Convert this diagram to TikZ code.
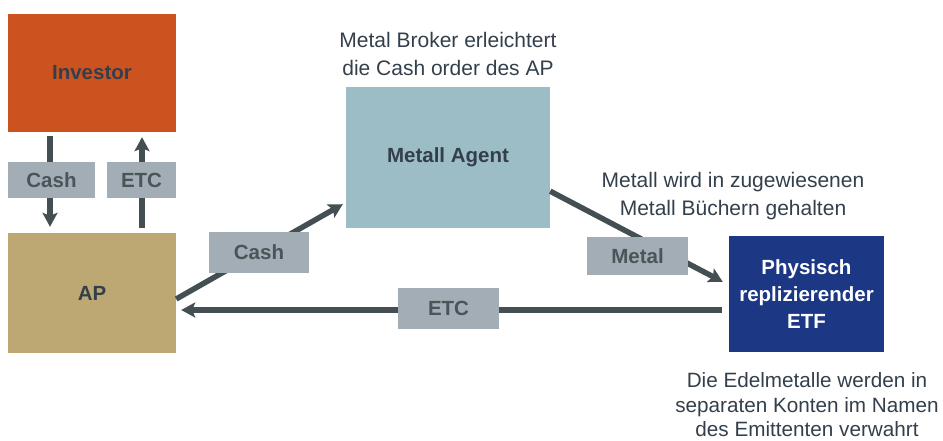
\documentclass[tikz,border=0pt]{standalone}
\usepackage{fontspec}
\setmainfont{Liberation Sans}
\usepackage{tikz}
\usetikzlibrary{arrows.meta}

\definecolor{invorange}{HTML}{CC5220}
\definecolor{aptan}{HTML}{BDA873}
\definecolor{agentblue}{HTML}{9CBDC6}
\definecolor{etfblue}{HTML}{1C3784}
\definecolor{tagrey}{HTML}{A3ADB5}
\definecolor{flowgrey}{HTML}{434F52}
\definecolor{tagtext}{HTML}{4A5558}
\definecolor{notetext}{HTML}{33404C}

\begin{document}
\begin{tikzpicture}[x=1pt,y=-1pt]
\tikzstyle{box}=[inner sep=0pt,font=\fontsize{20.5}{27}\selectfont\bfseries];
\tikzstyle{tag}=[fill=tagrey,inner sep=0pt,text=tagtext,font=\fontsize{20.5}{24}\selectfont\bfseries];
\tikzstyle{note}=[align=center,text=notetext,font=\fontsize{21}{28}\selectfont];
\tikzstyle{flow}=[draw=flowgrey,line width=5.5pt,-{Stealth[length=14pt,width=15pt,inset=3pt]}];
\useasboundingbox (0,0) rectangle (943,440);

\node [box,fill=invorange,text=notetext,minimum width=168pt,minimum height=118pt] (inv) at (92,73) {Investor};
\node [box,fill=aptan,text=notetext,minimum width=168pt,minimum height=120pt] (ap) at (92,293) {AP};
\node [box,fill=agentblue,text=notetext,minimum width=204pt,minimum height=141pt] (agent) at (448,157.5) {Metall Agent};
\node [box,fill=etfblue,text=white,align=center,minimum width=155pt,minimum height=116pt] (etf) at (806.5,294) {Physisch\\replizierender\\ETF};

% Investor <-> AP
\draw [flow] ([shift={(-42,4)}]inv.south) -- ([shift={(-42,-6)}]ap.north);
\draw [flow] ([shift={(50,-5)}]ap.north) -- ([shift={(50,5)}]inv.south);

% triangle
\draw [flow] ([shift={(0,6)}]ap.east) -- ([shift={(-3,-24)}]agent.south west);
\draw [flow] ([shift={(0,-37)}]agent.south east) -- ([shift={(-6,46)}]etf.north west);
\draw [flow] ([shift={(-7,16)}]etf.west) -- ([shift={(5,17)}]ap.east);

\node [tag,minimum width=87pt,minimum height=36pt] (cash1) at (51.5,180) {Cash};
\node [tag,minimum width=69pt,minimum height=36pt] (etc1) at (141.5,180) {ETC};
\node [tag,minimum width=100pt,minimum height=41pt] (cash2) at (259,252.5) {Cash};
\node [tag,minimum width=101pt,minimum height=38pt] (metal) at (637.5,256) {Metal};
\node [tag,minimum width=101pt,minimum height=41pt] (etc2) at (448.5,308.5) {ETC};

\node [note] (broker) at (448,54) {Metal Broker erleichtert\\die Cash order des AP};
\node [note] (books) at (733,196) {Metall wird in zugewiesenen\\Metall Büchern gehalten};
\node [note,font=\fontsize{20.7}{24.5}\selectfont] (vault) at (807,405) {Die Edelmetalle werden in\\separaten Konten im Namen\\des Emittenten verwahrt};
\end{tikzpicture}
\end{document}
